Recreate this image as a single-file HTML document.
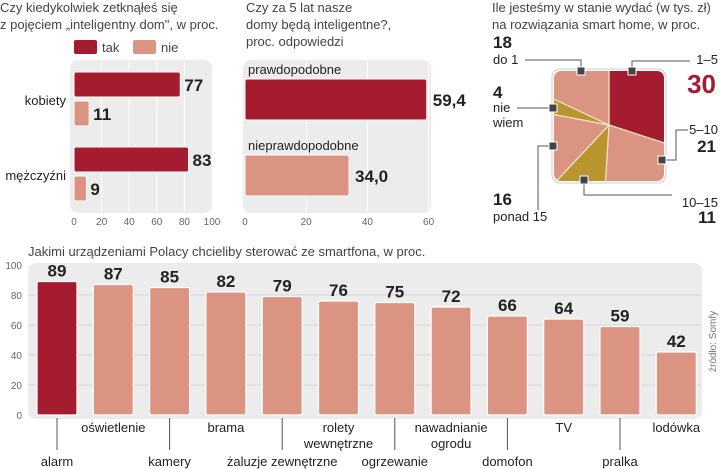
<!DOCTYPE html>
<html><head><meta charset="utf-8"><style>
body{margin:0;background:#fff;}
svg{display:block;font-family:"Liberation Sans",sans-serif;}
.t{fill:#444;font-size:13px;}
.tick{fill:#666;font-size:10px;}
.v{font-weight:bold;fill:#222;font-size:17px;font-family:"Liberation Sans Narrow","Liberation Sans",sans-serif;}
.lab{fill:#222;font-size:13px;}
</style></head><body>
<svg width="720" height="469" viewBox="0 0 720 469">
<g>
<text class="t" x="0" y="12">Czy kiedykolwiek zetknąłeś się</text>
<text class="t" x="0" y="29">z pojęciem „inteligentny dom", w proc.</text>
<rect x="74" y="40" width="23" height="14" rx="2" fill="#a51c30"/>
<text class="t" x="102" y="52">tak</text>
<rect x="133" y="40" width="23" height="14" rx="2" fill="#dc9482"/>
<text class="t" x="161" y="52">nie</text>
<rect x="70" y="60" width="142" height="153" rx="8" fill="#ececec"/>
<g id="c1"></g>
</g>
<g>
<text class="t" x="246" y="12">Czy za 5 lat nasze</text>
<text class="t" x="246" y="29">domy będą inteligentne?,</text>
<text class="t" x="246" y="46">proc. odpowiedzi</text>
<rect x="243" y="60" width="188" height="153" rx="8" fill="#ececec"/>
<g id="c2"></g>
</g>
<g>
<text class="t" x="492" y="12">Ile jesteśmy w stanie wydać (w tys. zł)</text>
<text class="t" x="492" y="29">na rozwiązania smart home, w proc.</text>
<defs><clipPath id="sq"><rect x="554" y="71" width="110" height="110" rx="7"/></clipPath></defs>
<rect x="552" y="69" width="114" height="114" rx="8" fill="#fff" stroke="#ccc"/>
<g id="c3" clip-path="url(#sq)"></g>
<g id="c3l"></g>
</g>
<g>
<text class="t" x="28" y="256">Jakimi urządzeniami Polacy chcieliby sterować ze smartfona, w proc.</text>
<rect x="28" y="263" width="674" height="156" rx="8" fill="#ececec"/>
<g id="c4"></g>
<text x="716" y="372" transform="rotate(-90 716 372)" fill="#777" font-size="10">źródło: Somfy</text>
</g>
</svg>
<script>
const NS="http://www.w3.org/2000/svg";
function mk(p,tag,a,txt){const e=document.createElementNS(NS,tag);for(const k in a)e.setAttribute(k,a[k]);if(txt!==undefined)e.textContent=txt;p.appendChild(e);return e;}
const RED="#a51c30",SAL="#dc9482",OLV="#b8952e";

const c1Groups=["kobiety","mężczyźni"];
const c1Tak=[77,83];
const c1Nie=[11,9];
const c1Ticks=[0,20,40,60,80,100];
const c2Cats=["prawdopodobne","nieprawdopodobne"];
const c2Vals=[59.4,34.0];
const c2Labels=["59,4","34,0"];
const c2Ticks=[0,20,40,60];
const c3Cats=["1–5","5–10","10–15","ponad 15","nie wiem","do 1"];
const c3Vals=[30,21,11,16,4,18];
const c4Cats=["alarm","oświetlenie","kamery","brama","żaluzje zewnętrzne","rolety|wewnętrzne","ogrzewanie","nawadnianie|ogrodu","domofon","TV","pralka","lodówka"];
const c4Vals=[89,87,85,82,79,76,75,72,66,64,59,42];
const c4Ticks=[0,20,40,60,80,100];

(function(){
 const g=document.getElementById('c1');
 const x=v=>74+v*1.38;
 c1Ticks.forEach(t=>{
  if(t>0&&t<100){const l=mk(g,'line',{x1:x(t),x2:x(t),y1:62,y2:211,stroke:'#fff','stroke-width':1});}
  const e=mk(g,'text',{x:x(t),y:225,'text-anchor':'middle',class:'tick'},t);
  
  
 });
 c1Groups.forEach((n,i)=>{
  const y0=72+i*75;
  const gl=mk(g,'text',{x:66,y:y0+33,'text-anchor':'end',class:'lab'},n);
  
  
  [[c1Tak[i],RED,0],[c1Nie[i],SAL,29]].forEach(([v,c,o])=>{
   const b=mk(g,'rect',{x:74,y:y0+o,width:x(v)-74,height:25,rx:2,fill:c,stroke:'#fff','stroke-width':1});
   
   
   const t=mk(g,'text',{x:x(v)+4,y:y0+o+19,class:'v'},v);
   
   
  });
 });
})();

(function(){
 const g=document.getElementById('c2');
 const x=v=>245+v*3.06;
 c2Ticks.forEach(t=>{
  if(t>0){const l=mk(g,'line',{x1:x(t),x2:x(t),y1:62,y2:211,stroke:'#fff'});}
  const e=mk(g,'text',{x:x(t),y:225,'text-anchor':'middle',class:'tick'},t);
  
  
 });
 c2Cats.forEach((n,i)=>{
  const y0=79+i*76;
  const cl=mk(g,'text',{x:248,y:y0-5,class:'lab'},n);
  
  
  const b=mk(g,'rect',{x:245,y:y0,width:x(c2Vals[i])-245,height:41,rx:2,fill:i?SAL:RED,stroke:'#fff'});
  
  
  const t=mk(g,'text',{x:x(c2Vals[i])+6,y:y0+27,class:'v'},c2Labels[i]);
  
  
 });
})();

(function(){
 const g=document.getElementById('c3'),gl=document.getElementById('c3l');
 const cx=609,cy=125,R=120;
 const cols=[RED,SAL,OLV,SAL,OLV,SAL];
 const total=c3Vals.reduce((a,b)=>a+b,0);
 let acc=0;
 c3Vals.forEach((v,i)=>{
  const a0=acc/total*2*Math.PI,a1=(acc+v)/total*2*Math.PI;acc+=v;
  const p=a=>[cx+R*Math.sin(a),cy-R*Math.cos(a)];
  const [x0,y0]=p(a0),[x1,y1]=p(a1);
  const s=mk(g,'path',{d:`M${cx},${cy}L${x0},${y0}A${R},${R} 0 ${a1-a0>Math.PI?1:0} 1 ${x1},${y1}Z`,fill:cols[i],stroke:'#f4e6c8','stroke-width':1.2});
  
  
 });
 // label: [x,y,text,anchor]; val: [x,y,anchor,big]
 const L=[
  {m:[632,71],path:'M632,71V61H690',lab:[[718,64,'1–5','end']],val:[716,93,'end',true]},
  {m:[662,160],path:'M662,160H676V130H688',lab:[[718,134,'5–10','end']],val:[716,152,'end',false]},
  {m:[584,180],path:'M584,180V195H672',lab:[[718,207,'10–15','end']],val:[716,223,'end',false]},
  {m:[553,146],path:'M553,146H538V210',lab:[[493,221,'ponad 15','start']],val:[493,205,'start',false]},
  {m:[553,108],path:'M553,108H517',lab:[[493,112,'nie','start'],[493,127,'wiem','start']],val:[493,98,'start',false]},
  {m:[581,71],path:'M581,71V60H525',lab:[[493,64,'do 1','start']],val:[493,48,'start',false]}
 ];
 L.forEach((c,i)=>{
  const ln=mk(gl,'path',{d:c.path,fill:'none',stroke:'#555','stroke-width':1});
  
  
  const m=mk(gl,'rect',{x:c.m[0]-4,y:c.m[1]-4,width:8,height:8,fill:'#444',stroke:'#fff'});
  
  
  c.lab.forEach(l=>{
   const t=mk(gl,'text',{x:l[0],y:l[1],class:'lab','text-anchor':l[3]},l[2]);
   
   
  });
  const big=c.val[3];
  const t=mk(gl,'text',{x:c.val[0],y:c.val[1],class:'v','text-anchor':c.val[2],style:'font-size:'+(big?26:17)+'px;fill:'+(big?RED:'#222')},c3Vals[i]);
  
  
 });
})();

(function(){
 const g=document.getElementById('c4');
 const y=v=>415-v*1.5, x=i=>57+i*56.3;
 c4Ticks.forEach(t=>{
  if(t>0&&t<100){const l=mk(g,'line',{x1:30,x2:700,y1:y(t),y2:y(t),stroke:'#d6d6d6'});}
  const e=mk(g,'text',{x:22,y:y(t)+4,'text-anchor':'end',class:'tick'},t);
  
  
 });
 c4Cats.forEach((n,i)=>{
  const cx=x(i),v=c4Vals[i];
  const b=mk(g,'rect',{x:cx-20,y:y(v),width:40,height:415-y(v),rx:2,fill:i===0?RED:SAL,stroke:'#fff','stroke-width':1.2});
  
  
  const t=mk(g,'text',{x:cx,y:y(v)-5,'text-anchor':'middle',class:'v'},v);
  
  
  const lines=n.split('|');
  const low=i%2===0;
  if(low){const tl=mk(g,'line',{x1:cx,x2:cx,y1:418,y2:450,stroke:'#555'});}
  lines.forEach((s,k)=>{
   const lt=mk(g,'text',{x:cx,y:(low?466:432)+k*16,'text-anchor':'middle',class:'lab'},s);
   
   
  });
 });
})();
</script>
</body></html>
